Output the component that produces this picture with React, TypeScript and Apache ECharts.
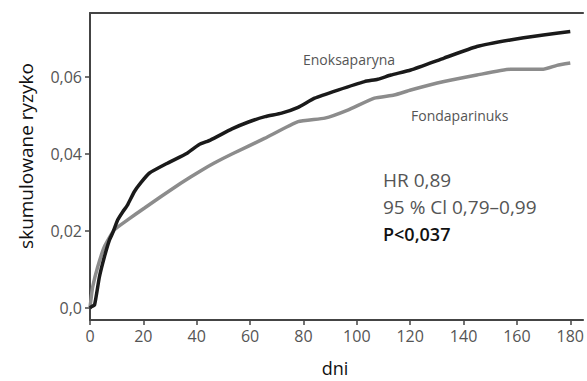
import React, { useEffect, useRef } from "react";
import * as echarts from "echarts";

const xTicks = [0, 20, 40, 60, 80, 100, 120, 140, 160, 180];
const yTicks = [0, 0.02, 0.04, 0.06];
const yTickLabels = ["0,0", "0,02", "0,04", "0,06"];

const enoksDays = [0, 0.4, 1.7, 3.5, 5.4, 7.3, 8.5, 10.4, 12.3, 14.1, 16.6, 19, 22.2, 29, 36.4, 40.8, 45.1, 53.2, 59.4, 65.6, 71.8, 78, 84.2, 92.9, 102.9, 107.8, 112.8, 120.2, 132.7, 145, 157.5, 169.9, 180];
const enoksRisk = [0, 0.0003, 0.0008, 0.008, 0.0133, 0.0177, 0.0195, 0.0229, 0.025, 0.0268, 0.0302, 0.0325, 0.035, 0.0376, 0.0402, 0.0424, 0.0436, 0.0465, 0.0483, 0.0497, 0.0506, 0.0521, 0.0545, 0.0566, 0.0588, 0.0594, 0.0605, 0.0618, 0.0649, 0.0679, 0.0696, 0.0709, 0.0718];

const fondaDays = [0, 0.5, 1, 2.9, 5.4, 9.1, 14.1, 20.3, 26.5, 34, 41.4, 46.4, 53.2, 65.6, 78, 88, 96.6, 106.6, 114, 120.2, 132.7, 145, 157.5, 169.9, 175, 180];
const fondaRisk = [0, 0.003, 0.0055, 0.0107, 0.0159, 0.0203, 0.0229, 0.0259, 0.0289, 0.0324, 0.0356, 0.0376, 0.04, 0.0441, 0.0484, 0.0493, 0.0514, 0.0545, 0.0553, 0.0566, 0.0588, 0.0605, 0.062, 0.062, 0.063, 0.0636];

const seriesNames = ["Enoksaparyna", "Fondaparinuks"];
const statLines = ["HR 0,89", "95 % Cl 0,79–0,99", "P<0,037"];
const xTitle = "dni";
const yTitle = "skumulowane ryzyko";

const FONT = "'Open Sans', 'Noto Sans', sans-serif";

export default function App() {
  const ref = useRef<HTMLDivElement>(null);
  useEffect(() => {
    if (!ref.current) return;
    const chart = echarts.init(ref.current, null, { renderer: "svg" });
    const xMin = 0, xMax = 184.8, yMin = -0.0031, yMax = 0.0766;
    chart.setOption({
      animation: false,
      backgroundColor: "#ffffff",
      grid: { left: 90, top: 13, right: 0, bottom: 61, containLabel: false },
      xAxis: [
        {
          type: "value",
          min: xMin,
          max: xMax,
          position: "bottom",
          axisLine: { show: true, onZero: false, lineStyle: { color: "#444", width: 2 } },
          axisTick: { show: true, length: 5, inside: false, customValues: xTicks, lineStyle: { color: "#444", width: 1.5 } },
          axisLabel: { show: true, customValues: xTicks, margin: 8, color: "#555", fontSize: 16, fontFamily: FONT },
          splitLine: { show: false },
        },
        {
          type: "value",
          min: xMin,
          max: xMax,
          position: "top",
          axisLine: { show: true, onZero: false, lineStyle: { color: "#444", width: 2 } },
          axisTick: { show: false },
          axisLabel: { show: false },
          splitLine: { show: false },
        },
      ],
      yAxis: {
        type: "value",
        min: yMin,
        max: yMax,
        axisLine: { show: true, onZero: false, lineStyle: { color: "#444", width: 2 } },
        axisTick: { show: true, length: 5, inside: false, customValues: yTicks, lineStyle: { color: "#444", width: 1.5 } },
        axisLabel: {
          show: true,
          customValues: yTicks,
          margin: 8,
          color: "#555",
          fontSize: 16,
          fontFamily: FONT,
          formatter: (v: number) => {
            const i = yTicks.findIndex((t) => Math.abs(t - v) < 1e-9);
            return i >= 0 ? yTickLabels[i] : "";
          },
        },
        splitLine: { show: false },
      },
      series: [
        {
          name: seriesNames[1],
          type: "line",
          data: fondaDays.map((d, i) => [d, fondaRisk[i]]),
          showSymbol: false,
          smooth: 0.15,
          lineStyle: { color: "#8c8c8c", width: 3.5 },
          z: 2,
        },
        {
          name: seriesNames[0],
          type: "line",
          data: enoksDays.map((d, i) => [d, enoksRisk[i]]),
          showSymbol: false,
          smooth: 0.15,
          lineStyle: { color: "#1a1a1a", width: 3.5 },
          z: 3,
        },
      ],
      graphic: [
        {
          type: "text",
          x: 26,
          y: 156,
          rotation: Math.PI / 2,
          style: { text: yTitle, fontSize: 19, fontFamily: FONT, fill: "#111", align: "center", verticalAlign: "middle" },
        },
        {
          type: "text",
          x: 335,
          y: 368,
          style: { text: xTitle, fontSize: 18, fontFamily: FONT, fill: "#111", align: "center", verticalAlign: "middle" },
        },
        {
          type: "text",
          x: 303,
          y: 59,
          style: { text: seriesNames[0], fontSize: 14, fontFamily: FONT, fill: "#555", align: "left", verticalAlign: "middle" },
        },
        {
          type: "text",
          x: 411,
          y: 115,
          style: { text: seriesNames[1], fontSize: 14, fontFamily: FONT, fill: "#555", align: "left", verticalAlign: "middle" },
        },
        {
          type: "text",
          x: 383,
          y: 180,
          style: { text: statLines[0], fontSize: 19, fontFamily: FONT, fill: "#555", align: "left", verticalAlign: "middle" },
        },
        {
          type: "text",
          x: 383,
          y: 207,
          style: { text: statLines[1], fontSize: 19, fontFamily: FONT, fill: "#555", align: "left", verticalAlign: "middle" },
        },
        {
          type: "text",
          x: 383,
          y: 234,
          style: { text: statLines[2], fontSize: 18, fontFamily: FONT, fontWeight: 600, fill: "#111", align: "left", verticalAlign: "middle" },
        },
      ],
    });
    return () => chart.dispose();
  }, []);
  return <div ref={ref} style={{ position: "fixed", left: 0, top: 0, width: 587, height: 381 }} />;
}
